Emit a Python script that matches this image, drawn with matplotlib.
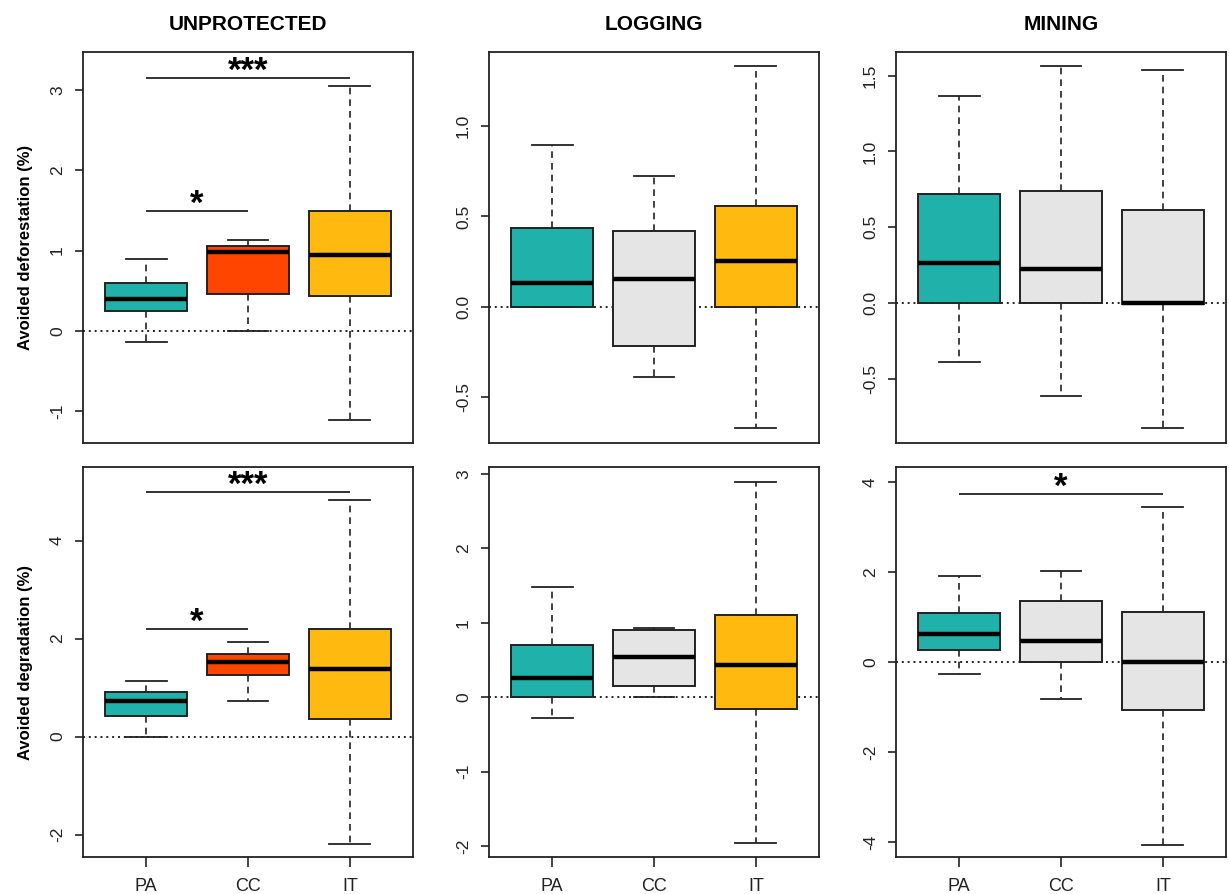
import matplotlib
matplotlib.use("Agg")
import matplotlib.pyplot as plt

plt.rcParams['font.family'] = ['Liberation Sans', 'DejaVu Sans']

groups = ["PA", "CC", "IT"]
columns = ["UNPROTECTED", "LOGGING", "MINING"]
row_labels = ["Avoided deforestation (%)", "Avoided degradation (%)"]

# each panel: rows are whisker low, Q1, median, Q3, whisker high; columns PA, CC, IT
unprot_defor = [[-0.145, 0.0, -1.11],
                [0.245, 0.457, 0.43],
                [0.395, 0.98, 0.95],
                [0.60, 1.06, 1.49],
                [0.90, 1.13, 3.05]]
logging_defor = [[0.0, -0.387, -0.67],
                 [0.0, -0.217, 0.0],
                 [0.13, 0.152, 0.253],
                 [0.434, 0.419, 0.559],
                 [0.893, 0.725, 1.332]]
mining_defor = [[-0.391, -0.616, -0.822],
                [0.0, 0.0, -0.01],
                [0.262, 0.224, 0.0],
                [0.717, 0.737, 0.613],
                [1.368, 1.563, 1.535]]
unprot_degr = [[0.0, 0.72, -2.18],
               [0.43, 1.25, 0.355],
               [0.72, 1.52, 1.37],
               [0.905, 1.69, 2.19],
               [1.13, 1.93, 4.82]]
logging_degr = [[-0.28, 0.0, -1.96],
                [0.0, 0.156, -0.157],
                [0.26, 0.545, 0.44],
                [0.70, 0.91, 1.11],
                [1.48, 0.925, 2.89]]
mining_degr = [[-0.26, -0.815, -4.06],
               [0.26, 0.0, -1.07],
               [0.615, 0.467, 0.0],
               [1.08, 1.36, 1.10],
               [1.92, 2.01, 3.44]]

panels = [[unprot_defor, logging_defor, mining_defor],
          [unprot_degr, logging_degr, mining_degr]]

teal = "#20B2AA"
red = "#FF4500"
gold = "#FFB90F"
grey = "#E5E5E5"
fills = [[teal, red, gold], [teal, grey, gold], [teal, grey, grey]]

ylims = [[(-1.40, 3.475), (-0.754, 1.41), (-0.924, 1.656)],
         [(-2.455, 5.50), (-2.146, 3.095), (-4.33, 4.33)]]
yticks = [[[-1, 0, 1, 2, 3], [-0.5, 0.0, 0.5, 1.0], [-0.5, 0.0, 0.5, 1.0, 1.5]],
          [[-2, 0, 2, 4], [-2, -1, 0, 1, 2, 3], [-4, -2, 0, 2, 4]]]
ytick_fmt = [["{:.0f}", "{:.1f}", "{:.1f}"], ["{:.0f}", "{:.0f}", "{:.0f}"]]

# significance bars: row, col, from group, to group, height, label
signif = [(0, 0, 1, 3, 3.147, "***"),
          (0, 0, 1, 2, 1.49, "*"),
          (1, 0, 1, 3, 4.99, "***"),
          (1, 0, 1, 2, 2.20, "*"),
          (1, 2, 1, 3, 3.73, "*")]

W, H = 1229, 894
fig = plt.figure(figsize=(W / 100, H / 100), dpi=100)

lefts = [83, 489, 896]
panel_w = 330
row_top = [52, 467]
row_bot = [443, 857]

axes = [[None] * 3 for _ in range(2)]
for r in range(2):
    for c in range(3):
        ax = fig.add_axes([lefts[c] / W, 1 - row_bot[r] / H,
                           panel_w / W, (row_bot[r] - row_top[r]) / H])
        axes[r][c] = ax
        data = panels[r][c]
        stats = []
        for g in range(3):
            stats.append(dict(whislo=data[0][g], q1=data[1][g], med=data[2][g],
                              q3=data[3][g], whishi=data[4][g], fliers=[],
                              label=groups[g]))
        ax.axhline(0, color="#222222", lw=1.4, ls=(0, (1, 2.0)), zorder=1)
        bp = ax.bxp(stats, positions=[1, 2, 3], widths=0.8, capwidths=0.4,
                    patch_artist=True, showfliers=False,
                    boxprops=dict(edgecolor="#222222", lw=1.4),
                    medianprops=dict(color="black", lw=3.2, solid_capstyle="butt"),
                    whiskerprops=dict(color="#222222", lw=1.2, ls=(0, (4, 3))),
                    capprops=dict(color="#222222", lw=1.3))
        for patch, col in zip(bp["boxes"], fills[c]):
            patch.set_facecolor(col)
            patch.set_zorder(2)
        for ln in bp["medians"]:
            ln.set_zorder(3)

        ax.set_xlim(0.38, 3.62)
        ax.set_ylim(*ylims[r][c])
        ax.set_yticks(yticks[r][c])
        ax.set_yticklabels([ytick_fmt[r][c].format(v) for v in yticks[r][c]],
                           rotation=90, va="center", fontsize=12.5, color="#222222")
        ax.tick_params(axis="y", length=6, width=1.2, pad=7, color="#222222")
        if r == 1:
            ax.set_xticks([1, 2, 3])
            ax.set_xticklabels(groups, fontsize=13, color="#222222")
            ax.tick_params(axis="x", length=7, width=1.2, pad=8, color="#222222")
        else:
            ax.set_xticks([])
        for sp in ax.spines.values():
            sp.set_color("#222222")
            sp.set_linewidth(1.3)

        if r == 0:
            ax.set_title(columns[c], fontsize=15, fontweight="bold", pad=16)
        if c == 0:
            ax.set_ylabel(row_labels[r], fontsize=12, fontweight="bold", labelpad=12)

for r, c, g1, g2, y, lab in signif:
    ax = axes[r][c]
    ax.plot([g1, g2], [y, y], color="#222222", lw=1.3, solid_capstyle="butt")
    ax.annotate(lab, xy=((g1 + g2) / 2, y), xytext=(0, -7), textcoords="offset points",
                ha="center", va="bottom", fontsize=25, fontweight="bold")

fig.savefig("out.png", dpi=100)
